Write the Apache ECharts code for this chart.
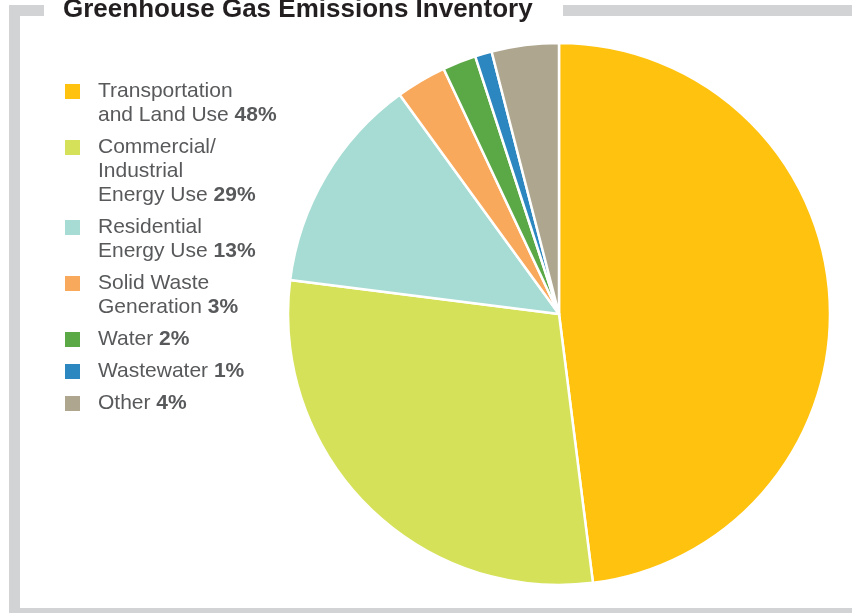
<!DOCTYPE html>
<html>
<head>
<meta charset="utf-8">
<script src="https://cdn.jsdelivr.net/npm/echarts@6/dist/echarts.min.js"></script>
<style>
  html, body { margin: 0; padding: 0; background: #fff; }
  #chart { width: 852px; height: 613px; }
</style>
</head>
<body>
<div id="chart"></div>
<script>
// data
var categories = [
  'Transportation and Land Use',
  'Commercial/Industrial Energy Use',
  'Residential Energy Use',
  'Solid Waste Generation',
  'Water',
  'Wastewater',
  'Other'
];
// how each legend label is broken into lines
var labelLines = [
  ['Transportation', 'and Land Use'],
  ['Commercial/', 'Industrial', 'Energy Use'],
  ['Residential', 'Energy Use'],
  ['Solid Waste', 'Generation'],
  ['Water'],
  ['Wastewater'],
  ['Other']
];
var shares = [48, 29, 13, 3, 2, 1, 4];
var colors = ['#FFC20E', '#D6E15A', '#A6DCD3', '#F9A95B', '#5BA946', '#2C86BF', '#AEA68F'];

var textColor = '#58595b';
var frameColor = '#d1d3d4';
var fontFamily = "'Liberation Sans', Arial, Helvetica, sans-serif";

var chart = echarts.init(document.getElementById('chart'));

var rich = {
  n: { fontSize: 21, lineHeight: 24, color: textColor, fontFamily: fontFamily },
  b: { fontSize: 21, lineHeight: 24, color: textColor, fontFamily: fontFamily, fontWeight: 'bold' },
  gap: { width: 18, lineHeight: 24 },
  sp: { width: 33, lineHeight: 24 }
};
colors.forEach(function (c, i) {
  rich['sq' + i] = { width: 15, height: 15, lineHeight: 24, backgroundColor: c, verticalAlign: 'middle' };
});

var pieData = categories.map(function (name, i) {
  return { name: name, value: shares[i], itemStyle: { color: colors[i] } };
});

var option = {
  animation: false,
  title: {
    text: 'Greenhouse Gas Emissions Inventory',
    left: 63,
    top: -3,
    padding: 0,
    textStyle: {
      fontSize: 26,
      fontWeight: 'bold',
      color: '#231f20',
      fontFamily: fontFamily
    }
  },
  legend: {
    orient: 'vertical',
    left: 59,
    top: 81,
    padding: 0,
    itemGap: 11,
    itemWidth: 0,
    itemHeight: 0,
    selectedMode: false,
    icon: 'rect',
    itemStyle: { opacity: 0 },
    data: categories,
    formatter: function (name) {
      var i = categories.indexOf(name);
      var lines = labelLines[i];
      return lines.map(function (l, k) {
        var head = k === 0 ? '{sq' + i + '| }{gap| }' : '{sp| }';
        if (k === lines.length - 1) {
          return head + '{n|' + l + ' }{b|' + shares[i] + '%}';
        }
        return head + '{n|' + l + '}';
      }).join('\n');
    },
    textStyle: { rich: rich, color: textColor, fontSize: 21, fontFamily: fontFamily }
  },
  graphic: [
    // frame, broken at the top for the title
    { type: 'rect', shape: { x: 9, y: 5, width: 35, height: 11 }, style: { fill: frameColor }, silent: true },
    { type: 'rect', shape: { x: 563, y: 5, width: 300, height: 11 }, style: { fill: frameColor }, silent: true },
    { type: 'rect', shape: { x: 9, y: 5, width: 11, height: 615 }, style: { fill: frameColor }, silent: true },
    { type: 'rect', shape: { x: 9, y: 608, width: 850, height: 11 }, style: { fill: frameColor }, silent: true }
  ],
  series: [
    {
      type: 'pie',
      center: [559, 314],
      radius: 271,
      startAngle: 90,
      clockwise: true,
      label: { show: false },
      labelLine: { show: false },
      emphasis: { disabled: true },
      itemStyle: { borderColor: '#fff', borderWidth: 2.5 },
      data: pieData
    }
  ]
};

chart.setOption(option);
</script>
</body>
</html>
